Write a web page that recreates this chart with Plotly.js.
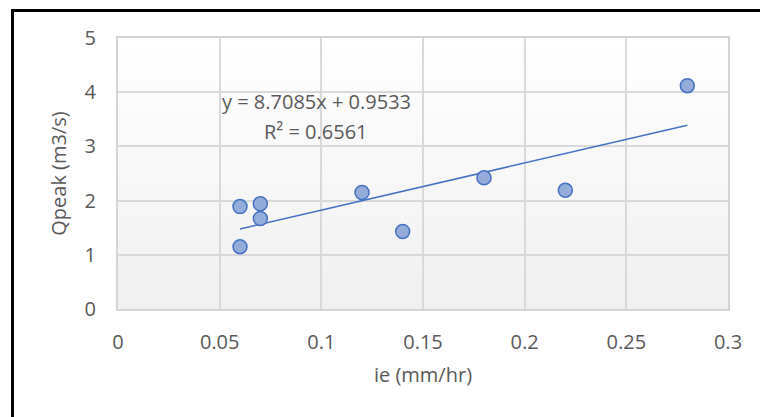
<!DOCTYPE html>
<html>
<head>
<meta charset="utf-8">
<script src="https://cdn.plot.ly/plotly-3.0.1.min.js"></script>
<style>
html,body{margin:0;padding:0;background:#fff;}
#wrap{position:relative;width:760px;height:417px;overflow:hidden;}
#frame{position:absolute;left:11px;top:9px;width:900px;height:600px;border-left:3px solid #000;border-top:3px solid #000;pointer-events:none;z-index:5;}
#chart{position:absolute;left:0;top:0;width:760px;height:417px;}
</style>
</head>
<body>
<div id="wrap">
<div id="chart"></div>
<div id="frame"></div>
</div>
<script>
// Data
const ieValues = [0.06, 0.06, 0.07, 0.07, 0.12, 0.14, 0.18, 0.22, 0.28];
const qpeakValues = [1.15, 1.89, 1.94, 1.67, 2.15, 1.43, 2.42, 2.19, 4.12];
const trendSlope = [8.7085];
const trendIntercept = [0.9533];
const rSquared = [0.6561];
const xTickVals = [0, 0.05, 0.1, 0.15, 0.2, 0.25, 0.3];
const xTickText = ['0', '0.05', '0.1', '0.15', '0.2', '0.25', '0.3'];
const yTickVals = [0, 1, 2, 3, 4, 5];
const yTickText = ['0', '1', '2', '3', '4', '5'];

const xMin = Math.min(...ieValues), xMax = Math.max(...ieValues);
const trendX = [xMin, xMax];
const trendY = trendX.map(x => trendSlope[0] * x + trendIntercept[0]);

const font = 'Open Sans, Noto Sans, DejaVu Sans, sans-serif';
const txt = '#595959';

const gradSvg = '<svg xmlns="http://www.w3.org/2000/svg" width="10" height="100" preserveAspectRatio="none">' +
  '<defs><linearGradient id="g" x1="0" y1="0" x2="0" y2="1">' +
  '<stop offset="0" stop-color="#ffffff"/><stop offset="1" stop-color="#f0f0f0"/>' +
  '</linearGradient></defs><rect width="10" height="100" fill="url(#g)"/></svg>';
const gradUri = 'data:image/svg+xml;charset=utf-8,' + encodeURIComponent(gradSvg);

const traces = [
  {
    x: trendX, y: trendY, type: 'scatter', mode: 'lines',
    line: {color: '#4472c4', width: 1.6},
    hoverinfo: 'skip', showlegend: false
  },
  {
    x: ieValues, y: qpeakValues, type: 'scatter', mode: 'markers',
    marker: {size: 14, color: '#94acda', line: {color: '#4472c4', width: 1.5}},
    showlegend: false
  }
];

const layout = {
  width: 760, height: 417,
  margin: {l: 118, r: 32, t: 38, b: 108, pad: 0},
  paper_bgcolor: 'rgba(0,0,0,0)',
  plot_bgcolor: 'rgba(0,0,0,0)',
  font: {family: font, size: 20, color: txt},
  showlegend: false,
  xaxis: {
    range: [0, 0.3], tickvals: xTickVals, ticktext: xTickText,
    showgrid: true, gridcolor: '#d9d9d9', gridwidth: 2,
    zeroline: false, showline: true, linecolor: '#d4d4d4', linewidth: 2, mirror: true,
    ticks: '', ticklabelstandoff: 14,
    tickfont: {family: font, size: 20, color: txt},
    title: {text: 'ie (mm/hr)', font: {family: font, size: 20, color: txt}, standoff: 14}
  },
  yaxis: {
    range: [0, 5], tickvals: yTickVals, ticktext: yTickText,
    showgrid: true, gridcolor: '#d9d9d9', gridwidth: 2,
    zeroline: false, showline: true, linecolor: '#d4d4d4', linewidth: 2, mirror: true,
    ticks: '', ticklabelstandoff: 16,
    tickfont: {family: font, size: 20, color: txt},
    title: {text: 'Qpeak (m3/s)', font: {family: font, size: 20, color: txt}, standoff: 13}
  },
  images: [{
    source: gradUri, xref: 'paper', yref: 'paper', x: 0, y: 1,
    sizex: 1, sizey: 1, xanchor: 'left', yanchor: 'top',
    sizing: 'stretch', layer: 'below'
  }],
  annotations: [
    {
      x: 0.0975, y: 3.83, xref: 'x', yref: 'y', showarrow: false,
      text: 'y = ' + trendSlope[0].toFixed(4) + 'x + ' + trendIntercept[0].toFixed(4),
      font: {family: font, size: 20, color: txt}, xanchor: 'center', yanchor: 'middle'
    },
    {
      x: 0.0975, y: 3.28, xref: 'x', yref: 'y', showarrow: false,
      text: 'R² = ' + rSquared[0].toFixed(4),
      font: {family: font, size: 20, color: txt}, xanchor: 'center', yanchor: 'middle'
    }
  ]
};

Plotly.newPlot('chart', traces, layout, {staticPlot: true, displayModeBar: false});
</script>
</body>
</html>
